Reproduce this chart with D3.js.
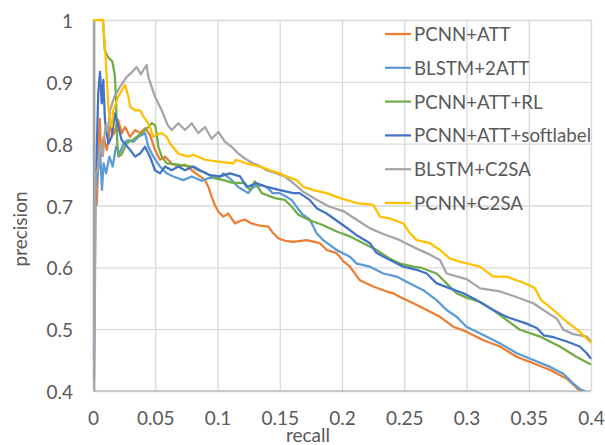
<!DOCTYPE html>
<html>
<head>
<meta charset="utf-8">
<script src="https://cdn.jsdelivr.net/npm/d3@7"></script>
<style>
  body { margin: 0; background: #fff; }
  svg { display: block; font-family: Lato, "Open Sans", sans-serif; }
</style>
</head>
<body>
<script>
// series names and colours (Excel default palette)
var seriesNames = ["PCNN+ATT", "BLSTM+2ATT", "PCNN+ATT+RL", "PCNN+ATT+softlabel", "BLSTM+C2SA", "PCNN+C2SA"];
var seriesColors = ["#ED7D31", "#5B9BD5", "#70AD47", "#4472C4", "#A5A5A5", "#FFC000"];

var xTickValues = [0, 0.05, 0.1, 0.15, 0.2, 0.25, 0.3, 0.35, 0.4];
var xTickLabels = ["0", "0.05", "0.1", "0.15", "0.2", "0.25", "0.3", "0.35", "0.4"];
var yTickValues = [0.4, 0.5, 0.6, 0.7, 0.8, 0.9, 1];
var yTickLabels = ["0.4", "0.5", "0.6", "0.7", "0.8", "0.9", "1"];

// [recall, precision]
var pcnnAtt = [[0.003,0.70],[0.004,0.76],[0.0045,0.80],[0.0055,0.84],[0.0065,0.78],[0.0085,0.81],[0.0112,0.79],[0.0138,0.827],[0.0165,0.815],[0.0203,0.838],[0.0231,0.817],[0.0257,0.827],[0.0298,0.811],[0.0338,0.822],[0.0378,0.817],[0.0418,0.825],[0.0458,0.814],[0.0498,0.79],[0.0538,0.774],[0.0578,0.779],[0.0632,0.768],[0.0685,0.763],[0.0739,0.766],[0.0793,0.757],[0.0846,0.749],[0.0900,0.741],[0.0927,0.73],[0.0953,0.714],[0.0980,0.70],[0.1007,0.69],[0.1047,0.682],[0.1087,0.687],[0.1140,0.671],[0.1181,0.675],[0.1221,0.677],[0.1274,0.671],[0.1328,0.668],[0.1408,0.666],[0.1448,0.655],[0.1488,0.647],[0.1542,0.643],[0.1609,0.641],[0.1716,0.644],[0.1823,0.639],[0.1877,0.628],[0.1957,0.623],[0.2010,0.61],[0.2064,0.601],[0.2144,0.579],[0.2251,0.569],[0.2358,0.561],[0.2410,0.558],[0.2466,0.552],[0.2573,0.542],[0.2680,0.531],[0.2787,0.52],[0.2893,0.504],[0.3000,0.496],[0.3135,0.482],[0.3270,0.472],[0.3404,0.455],[0.3537,0.445],[0.3672,0.434],[0.3806,0.42],[0.3885,0.405],[0.3920,0.398]];

var blstm2Att = [[0.0008,1.0],[0.0008,0.42],[0.002,0.72],[0.0035,0.749],[0.0045,0.763],[0.0058,0.782],[0.0072,0.725],[0.0085,0.768],[0.0105,0.752],[0.0132,0.779],[0.0158,0.763],[0.0185,0.795],[0.0212,0.784],[0.0245,0.80],[0.0282,0.806],[0.0325,0.803],[0.0365,0.811],[0.0418,0.817],[0.0445,0.795],[0.0485,0.779],[0.0538,0.763],[0.0592,0.752],[0.0645,0.747],[0.0725,0.741],[0.0793,0.747],[0.0873,0.74],[0.0940,0.745],[0.1007,0.744],[0.1047,0.752],[0.1114,0.741],[0.1167,0.73],[0.1247,0.72],[0.1288,0.73],[0.1355,0.733],[0.1395,0.73],[0.1442,0.72],[0.1500,0.72],[0.1555,0.714],[0.1595,0.709],[0.1635,0.698],[0.1676,0.687],[0.1742,0.677],[0.1796,0.655],[0.1849,0.644],[0.1957,0.628],[0.2064,0.617],[0.2118,0.606],[0.2225,0.601],[0.2332,0.59],[0.2439,0.585],[0.2546,0.574],[0.2653,0.563],[0.2760,0.547],[0.2840,0.531],[0.2920,0.52],[0.3000,0.504],[0.3160,0.488],[0.3270,0.477],[0.3404,0.461],[0.3537,0.45],[0.3672,0.439],[0.3778,0.428],[0.3858,0.412],[0.3920,0.402],[0.3995,0.396]];

var pcnnAttRl = [[0.008,1.0],[0.0095,0.951],[0.012,0.94],[0.0155,0.933],[0.0175,0.911],[0.0185,0.873],[0.0190,0.83],[0.0195,0.80],[0.0205,0.779],[0.0228,0.782],[0.0268,0.80],[0.0338,0.809],[0.0391,0.817],[0.0445,0.827],[0.0472,0.833],[0.0498,0.83],[0.0512,0.815],[0.0525,0.795],[0.0552,0.779],[0.0592,0.768],[0.0685,0.766],[0.0793,0.763],[0.0846,0.757],[0.0913,0.752],[0.0980,0.744],[0.1047,0.741],[0.1114,0.737],[0.1221,0.736],[0.1260,0.725],[0.1300,0.739],[0.1355,0.72],[0.1462,0.712],[0.1542,0.709],[0.1596,0.698],[0.1650,0.685],[0.1730,0.677],[0.1850,0.668],[0.1957,0.658],[0.2064,0.65],[0.2171,0.639],[0.2278,0.628],[0.2385,0.614],[0.2466,0.606],[0.2573,0.601],[0.2640,0.599],[0.2760,0.59],[0.2840,0.574],[0.2920,0.558],[0.3000,0.551],[0.3110,0.544],[0.3214,0.531],[0.3320,0.515],[0.3430,0.499],[0.3590,0.488],[0.3750,0.472],[0.3885,0.455],[0.4000,0.443]];

var pcnnAttSoft = [[0.002,0.70],[0.0027,0.763],[0.0042,0.881],[0.0056,0.916],[0.0070,0.865],[0.0083,0.903],[0.0096,0.838],[0.0123,0.80],[0.0150,0.811],[0.0177,0.849],[0.0204,0.827],[0.0230,0.806],[0.0257,0.80],[0.0298,0.79],[0.0338,0.779],[0.0378,0.784],[0.0418,0.795],[0.0458,0.779],[0.0498,0.757],[0.0538,0.752],[0.0578,0.763],[0.0632,0.757],[0.0685,0.763],[0.0739,0.757],[0.0806,0.763],[0.0860,0.757],[0.0940,0.749],[0.1020,0.747],[0.1101,0.752],[0.1181,0.747],[0.1234,0.73],[0.1315,0.736],[0.1395,0.73],[0.1502,0.725],[0.1609,0.72],[0.1660,0.72],[0.1740,0.709],[0.1800,0.695],[0.1876,0.687],[0.2010,0.668],[0.2118,0.652],[0.2225,0.639],[0.2278,0.623],[0.2385,0.612],[0.2493,0.601],[0.2600,0.596],[0.2680,0.59],[0.2760,0.574],[0.2867,0.566],[0.2974,0.558],[0.3081,0.547],[0.3214,0.531],[0.3320,0.52],[0.3483,0.509],[0.3564,0.502],[0.3620,0.49],[0.3700,0.487],[0.3805,0.48],[0.3910,0.472],[0.3966,0.461],[0.4000,0.452]];

var blstmC2sa = [[0.001,1.0],[0.001,0.40],[0.0022,0.75],[0.004,0.76],[0.006,0.80],[0.008,0.78],[0.010,0.83],[0.012,0.82],[0.0137,0.854],[0.017,0.875],[0.0217,0.892],[0.027,0.908],[0.031,0.915],[0.035,0.924],[0.0385,0.912],[0.0404,0.919],[0.0431,0.927],[0.0444,0.908],[0.0471,0.892],[0.0498,0.876],[0.0552,0.854],[0.0600,0.83],[0.0632,0.822],[0.0685,0.833],[0.0739,0.822],[0.0793,0.833],[0.0846,0.817],[0.0900,0.827],[0.0953,0.808],[0.1007,0.819],[0.1060,0.803],[0.1114,0.795],[0.1167,0.784],[0.1220,0.776],[0.1288,0.768],[0.1328,0.765],[0.1395,0.757],[0.1476,0.752],[0.1540,0.747],[0.1610,0.736],[0.1690,0.722],[0.1800,0.709],[0.1900,0.698],[0.2010,0.691],[0.2118,0.677],[0.2225,0.663],[0.2332,0.654],[0.2466,0.644],[0.2573,0.633],[0.2680,0.623],[0.2787,0.612],[0.2840,0.59],[0.3000,0.581],[0.3110,0.566],[0.3270,0.561],[0.3400,0.552],[0.3537,0.542],[0.3617,0.531],[0.3725,0.517],[0.3778,0.499],[0.3858,0.492],[0.3966,0.488],[0.4000,0.48]];

var pcnnC2sa = [[0,1.0],[0.0080,1.0],[0.0096,0.957],[0.0110,0.908],[0.0123,0.86],[0.0137,0.838],[0.0150,0.827],[0.0163,0.854],[0.0203,0.876],[0.0257,0.895],[0.0284,0.876],[0.0298,0.86],[0.0338,0.854],[0.0378,0.854],[0.0405,0.844],[0.0432,0.836],[0.0458,0.827],[0.0485,0.811],[0.0512,0.815],[0.0552,0.817],[0.0592,0.811],[0.0620,0.80],[0.0685,0.784],[0.0765,0.779],[0.0806,0.782],[0.0900,0.774],[0.1007,0.771],[0.1127,0.768],[0.1150,0.774],[0.1234,0.768],[0.1342,0.763],[0.1422,0.757],[0.1500,0.752],[0.1556,0.747],[0.1636,0.741],[0.1689,0.73],[0.1770,0.725],[0.1876,0.72],[0.1984,0.712],[0.2118,0.704],[0.2251,0.701],[0.2305,0.682],[0.2385,0.679],[0.2493,0.671],[0.2546,0.655],[0.2600,0.644],[0.2707,0.639],[0.2787,0.628],[0.2867,0.614],[0.2948,0.609],[0.3108,0.601],[0.3215,0.585],[0.3323,0.585],[0.3483,0.573],[0.3550,0.566],[0.3600,0.547],[0.3697,0.531],[0.3805,0.512],[0.3870,0.502],[0.3925,0.493],[0.4000,0.478]];

var allSeries = [pcnnAtt, blstm2Att, pcnnAttRl, pcnnAttSoft, blstmC2sa, pcnnC2sa];

var w = 605, h = 445;
var plotL = 93, plotR = 591, plotT = 20, plotB = 391;

var svg = d3.select("body").append("svg")
  .attr("width", w)
  .attr("height", h);

var x = d3.scaleLinear().domain([0, 0.4]).range([plotL, plotR]);
var y = d3.scaleLinear().domain([0.4, 1]).range([plotB, plotT]);

// gridlines
svg.append("g")
  .attr("transform", "translate(0," + plotB + ")")
  .call(d3.axisBottom(x).tickValues(xTickValues).tickSize(-(plotB - plotT)).tickFormat(""))
  .call(function(g) {
    g.select(".domain").remove();
    g.selectAll(".tick line").attr("stroke", "#D9D9D9").attr("stroke-width", 1.3);
  });

svg.append("g")
  .attr("transform", "translate(" + plotL + ",0)")
  .call(d3.axisLeft(y).tickValues(yTickValues).tickSize(-(plotR - plotL)).tickFormat(""))
  .call(function(g) {
    g.select(".domain").remove();
    g.selectAll(".tick line").attr("stroke", "#D9D9D9").attr("stroke-width", 1.3);
  });

// bottom axis line
svg.append("line")
  .attr("x1", plotL).attr("x2", plotR)
  .attr("y1", plotB).attr("y2", plotB)
  .attr("stroke", "#BFBFBF").attr("stroke-width", 1.3);

// tick labels
svg.append("g")
  .attr("transform", "translate(0," + plotB + ")")
  .call(d3.axisBottom(x).tickValues(xTickValues).tickSize(0).tickPadding(26)
    .tickFormat(function(d, i) { return xTickLabels[i]; }))
  .call(function(g) {
    g.select(".domain").remove();
    g.selectAll("text").attr("fill", "#595959").style("font-size", "19px")
      .style("font-family", "Lato, 'Open Sans', sans-serif")
      .attr("dy", null).attr("dominant-baseline", "central");
  });

svg.append("g")
  .attr("transform", "translate(" + plotL + ",0)")
  .call(d3.axisLeft(y).tickValues(yTickValues).tickSize(0).tickPadding(20)
    .tickFormat(function(d, i) { return yTickLabels[i]; }))
  .call(function(g) {
    g.select(".domain").remove();
    g.selectAll("text").attr("fill", "#595959").style("font-size", "19px")
      .style("font-family", "Lato, 'Open Sans', sans-serif")
      .attr("dy", null).attr("dominant-baseline", "central");
  });

// axis titles
svg.append("text")
  .attr("x", 308).attr("y", 442)
  .attr("text-anchor", "middle")
  .attr("fill", "#595959").style("font-size", "19px")
  .text("recall");

svg.append("text")
  .attr("transform", "translate(27,229) rotate(-90)")
  .attr("text-anchor", "middle")
  .attr("fill", "#595959").style("font-size", "19px")
  .text("precision");

// lines
svg.append("clipPath").attr("id", "plotclip")
  .append("rect").attr("x", plotL - 2).attr("y", plotT - 3)
  .attr("width", plotR - plotL + 4).attr("height", plotB - plotT + 3);

var line = d3.line()
  .x(function(d) { return x(d[0]); })
  .y(function(d) { return y(d[1]); });

svg.append("g").attr("clip-path", "url(#plotclip)")
  .selectAll("path")
  .data(allSeries)
  .enter()
  .append("path")
  .attr("d", line)
  .attr("fill", "none")
  .attr("stroke", function(d, i) { return seriesColors[i]; })
  .attr("stroke-width", 2.25)
  .attr("stroke-linejoin", "round");

// legend
var legend = svg.selectAll(".legend")
  .data(seriesNames)
  .enter()
  .append("g")
  .attr("class", "legend")
  .attr("transform", function(d, i) { return "translate(385," + (34 + i * 33.8) + ")"; });

legend.append("line")
  .attr("x1", 0).attr("x2", 26)
  .attr("y1", 0).attr("y2", 0)
  .attr("stroke", function(d, i) { return seriesColors[i]; })
  .attr("stroke-width", 2.25);

legend.append("text")
  .attr("x", 29).attr("y", 0)
  .attr("dominant-baseline", "central")
  .attr("fill", "#595959").style("font-size", "18.7px")
  .text(function(d) { return d; });
</script>
</body>
</html>
